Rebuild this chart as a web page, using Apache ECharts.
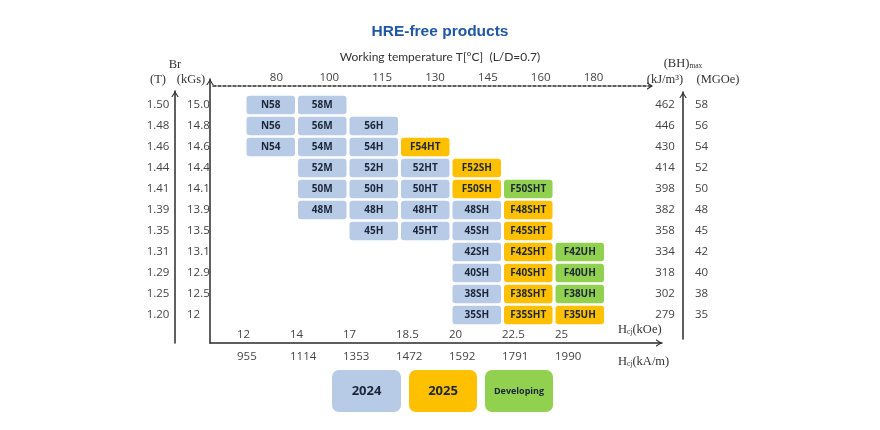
<!DOCTYPE html>
<html>
<head>
<meta charset="utf-8">
<script src="https://cdn.jsdelivr.net/npm/echarts@6/dist/echarts.min.js"></script>
<style>
  html, body { margin: 0; padding: 0; background: #ffffff; }
  #chart { width: 880px; height: 430px; }
</style>
</head>
<body>
<div id="chart"></div>
<script>
// ---- Data ----
const brT     = ['1.50','1.48','1.46','1.44','1.41','1.39','1.35','1.31','1.29','1.25','1.20'];
const brKGs   = ['15.0','14.8','14.6','14.4','14.1','13.9','13.5','13.1','12.9','12.5','12'];
const bhKJ    = ['462','446','430','414','398','382','358','334','318','302','279'];
const bhMGOe  = ['58','56','54','52','50','48','45','42','40','38','35'];
const hcjKOe  = ['12','14','17','18.5','20','22.5','25'];
const hcjKAm  = ['955','1114','1353','1472','1592','1791','1990'];
const workTemp = ['80','100','115','130','145','160','180'];

// [Hcj (kOe) column, Br (T) row, grade]
const grades2024 = [
  ['12','1.50','N58'], ['14','1.50','58M'],
  ['12','1.48','N56'], ['14','1.48','56M'], ['17','1.48','56H'],
  ['12','1.46','N54'], ['14','1.46','54M'], ['17','1.46','54H'],
  ['14','1.44','52M'], ['17','1.44','52H'], ['18.5','1.44','52HT'],
  ['14','1.41','50M'], ['17','1.41','50H'], ['18.5','1.41','50HT'],
  ['14','1.39','48M'], ['17','1.39','48H'], ['18.5','1.39','48HT'], ['20','1.39','48SH'],
  ['17','1.35','45H'], ['18.5','1.35','45HT'], ['20','1.35','45SH'],
  ['20','1.31','42SH'], ['20','1.29','40SH'], ['20','1.25','38SH'], ['20','1.20','35SH']
];
const grades2025 = [
  ['18.5','1.46','F54HT'], ['20','1.44','F52SH'], ['20','1.41','F50SH'],
  ['22.5','1.39','F48SHT'], ['22.5','1.35','F45SHT'], ['22.5','1.31','F42SHT'],
  ['22.5','1.29','F40SHT'], ['22.5','1.25','F38SHT'], ['22.5','1.20','F35SHT'],
  ['25','1.20','F35UH']
];
const gradesDeveloping = [
  ['22.5','1.41','F50SHT'], ['25','1.31','F42UH'], ['25','1.29','F40UH'], ['25','1.25','F38UH']
];

// ---- Styles ----
const C2024 = '#B7CBE6', C2025 = '#FFC000', CDEV = '#92D050';
const NUM_FONT = '"Open Sans", sans-serif';
const SERIF = '"Liberation Serif", serif';
const LINE = '#2b2b2b';
const CHEVRON = 'path://M0,8 L5,0 L10,8 L8.4,8 L5,2.6 L1.6,8 Z';

const chart = echarts.init(document.getElementById('chart'), null, { renderer: 'canvas' });

function cellRenderer(list, color) {
  return function (params, api) {
    const c = api.coord([api.value(0), api.value(1)]);
    const s = api.size([1, 1]);
    const w = s[0] - 3, h = s[1] - 2.6;
    return {
      type: 'rect',
      shape: { x: c[0] - w / 2, y: c[1] - h / 2, width: w, height: h, r: 3 },
      style: { fill: color },
      textContent: {
        style: {
          text: list[params.dataIndex][2],
          fill: '#1B2638',
          font: 'bold 10px ' + NUM_FONT
        }
      },
      textConfig: { position: 'inside' }
    };
  };
}

function cellSeries(name, list, color) {
  return {
    name: name,
    type: 'custom',
    xAxisIndex: 0, yAxisIndex: 1,   // Hcj (kOe) columns x Br (T) rows
    itemStyle: { color: color },
    data: list.map(g => [g[0], g[1]]),
    renderItem: cellRenderer(list, color),
    silent: true
  };
}

const hidden = (gridIndex) => ({ gridIndex, type: 'value', show: false, min: 0, max: 1 });
const arrowAxis = (gridIndex, position, extra) => Object.assign({
  gridIndex, type: 'value', position, min: 0, max: 1,
  axisLine: { show: true, symbol: ['none', CHEVRON], symbolSize: [8, 6], symbolOffset: [0, -3],
              lineStyle: { color: LINE, width: 1.5 } },
  axisTick: { show: false }, axisLabel: { show: false }, splitLine: { show: false }
}, extra || {});

const labelTxt = { color: '#444', fontFamily: NUM_FONT, fontSize: 11.5 };
const nameTxt = { color: '#333', fontFamily: SERIF, fontSize: 12.5,
  rich: { s: { fontFamily: SERIF, fontSize: 7.5, color: '#333', verticalAlign: 'bottom' } } };

const catY = (data, position, offset, align, margin, name, namePad) => ({
  gridIndex: 0, type: 'category', data, inverse: true, position, offset,
  axisLine: { show: false }, axisTick: { show: false }, splitLine: { show: false },
  axisLabel: Object.assign({ align, margin, interval: 0 }, labelTxt),
  name, nameLocation: 'start', nameGap: 8.5,
  nameTextStyle: Object.assign({}, nameTxt, { padding: namePad || 0 })
});

const option = {
  animation: false,
  backgroundColor: '#ffffff',
  title: {
    text: 'HRE-free products',
    subtext: 'Working temperature T[°C]  (L/D=0.7)',
    left: 435, top: 19, textAlign: 'center', itemGap: 11,
    textStyle: { color: '#1F57A4', fontFamily: '"Liberation Sans", Arial, sans-serif', fontWeight: 'bold', fontSize: 15.5 },
    subtextStyle: { color: '#333', fontFamily: 'Lato, sans-serif', fontSize: 12 }
  },
  legend: {
    left: 327, top: 370, padding: 0, itemGap: 3, itemWidth: 0, itemHeight: 0,
    selectedMode: false,
    data: ['2024', '2025', 'Developing'],
    formatter: n => n === '2024' ? '{a|2024}' : (n === '2025' ? '{b|2025}' : '{c|Developing}'),
    textStyle: {
      rich: {
        a: { backgroundColor: C2024, width: 69, height: 42, lineHeight: 42, align: 'center', borderRadius: 7,
             fontSize: 13, fontWeight: 'bold', color: '#1B2638', fontFamily: NUM_FONT },
        b: { backgroundColor: C2025, width: 68, height: 42, lineHeight: 42, align: 'center', borderRadius: 7,
             fontSize: 13, fontWeight: 'bold', color: '#1B2638', fontFamily: NUM_FONT },
        c: { backgroundColor: CDEV, width: 68, height: 42, lineHeight: 42, align: 'center', borderRadius: 7,
             fontSize: 9, fontWeight: 'bold', color: '#1B2638', fontFamily: NUM_FONT }
      }
    }
  },
  grid: [
    { left: 245, top: 94.5, width: 360.5, height: 231 },   // 0 cells
    { left: 250, top: 86, width: 370, height: 1 },         // 1 working temp labels
    { left: 213, top: 85, width: 440, height: 1 },         // 2 dashed arrow
    { left: 175, top: 91, width: 1, height: 252 },         // 3 T arrow
    { left: 210, top: 79, width: 1, height: 264 },         // 4 kGs arrow
    { left: 683, top: 92, width: 1, height: 247 },         // 5 right arrow
    { left: 210, top: 342, width: 452, height: 1 },        // 6 bottom arrow
    { left: 237, top: 342, width: 318, height: 1 }         // 7 Hcj labels
  ],
  xAxis: [
    { gridIndex: 0, type: 'category', data: hcjKOe, show: false },
    { gridIndex: 1, type: 'category', data: workTemp, position: 'top',
      axisLine: { show: false }, axisTick: { show: false }, splitLine: { show: false },
      axisLabel: Object.assign({ margin: 2, interval: 0 }, labelTxt) },
    arrowAxis(2, 'top', { axisLine: { show: true, symbol: ['none', CHEVRON], symbolSize: [8, 6], symbolOffset: [0, -3],
      lineStyle: { color: LINE, width: 1.5, type: [3, 2] } } }),
    hidden(3), hidden(4), hidden(5),
    arrowAxis(6, 'bottom'),
    { gridIndex: 7, type: 'category', data: hcjKOe, position: 'top', boundaryGap: false,
      axisLine: { show: false }, axisTick: { show: false }, splitLine: { show: false },
      axisLabel: Object.assign({ margin: 1, align: 'left', interval: 0 }, labelTxt),
      name: 'H{s|cj}(kOe)', nameLocation: 'end', nameGap: 63,
      nameTextStyle: Object.assign({}, nameTxt, { verticalAlign: 'bottom', padding: [0, 0, 7, 0] }) },
    { gridIndex: 7, type: 'category', data: hcjKAm, position: 'bottom', boundaryGap: false,
      axisLine: { show: false }, axisTick: { show: false }, splitLine: { show: false },
      axisLabel: Object.assign({ margin: 8, align: 'left', interval: 0 }, labelTxt),
      name: 'H{s|cj}(kA/m)', nameLocation: 'end', nameGap: 63,
      nameTextStyle: Object.assign({}, nameTxt, { verticalAlign: 'top', padding: [12, 0, 0, 0] }) }
  ],
  yAxis: [
    catY(brKGs, 'left', 54, 'left', 4, '(kGs)'),
    catY(brT, 'left', 87, 'center', 0, '(T)'),
    catY(bhKJ, 'right', 59.5, 'center', 0, '(kJ/m³)'),
    catY(bhMGOe, 'right', 89.5, 'left', 0, '(MGOe)', [0, 0, 0, 46]),
    hidden(1), hidden(2),
    arrowAxis(3, 'left', { name: 'Br', nameLocation: 'end', nameGap: 20, nameTextStyle: nameTxt }),
    arrowAxis(4, 'left'),
    arrowAxis(5, 'left', { name: '(BH){s|max}', nameLocation: 'end', nameGap: 22, nameTextStyle: nameTxt }),
    hidden(6), hidden(7)
  ],
  series: [
    cellSeries('2024', grades2024, C2024),
    cellSeries('2025', grades2025, C2025),
    cellSeries('Developing', gradesDeveloping, CDEV)
  ]
};

chart.setOption(option);
</script>
</body>
</html>
